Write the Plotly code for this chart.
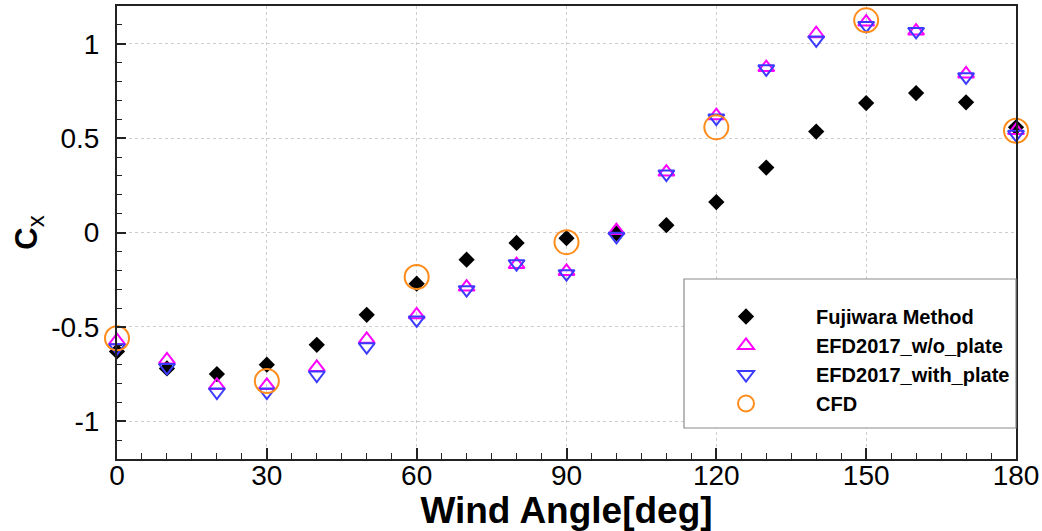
import plotly.graph_objects as go

# ---- data ----
angles = [0, 10, 20, 30, 40, 50, 60, 70, 80, 90, 100, 110, 120, 130, 140, 150, 160, 170, 180]
fujiwara = [-0.63, -0.72, -0.75, -0.70, -0.595, -0.436, -0.271, -0.144, -0.055, -0.03,
            -0.005, 0.039, 0.161, 0.344, 0.535, 0.686, 0.739, 0.69, 0.557]
efd_wo_plate = [-0.573, -0.675, -0.81, -0.81, -0.715, -0.566, -0.436, -0.289, -0.17, -0.206,
                0.01, 0.32, 0.619, 0.874, 1.053, 1.115, 1.067, 0.84, 0.54]
efd_with_plate = [-0.61, -0.715, -0.845, -0.845, -0.755, -0.605, -0.463, -0.303, -0.165, -0.218,
                  -0.02, 0.31, 0.606, 0.867, 1.02, 1.097, 1.065, 0.825, 0.52]
cfd_angles = [0, 30, 60, 90, 120, 150, 180]
cfd = [-0.56, -0.787, -0.236, -0.051, 0.557, 1.124, 0.539]

series_names = ["Fujiwara Method", "EFD2017_w/o_plate", "EFD2017_with_plate", "CFD"]

x_ticks = [0, 30, 60, 90, 120, 150, 180]
x_ticktext = ["0", "30", "60", "90", "120", "150", "180"]
y_ticks = [-1, -0.5, 0, 0.5, 1]
y_ticktext = ["-1", "-0.5", "0", "0.5", "1"]

FONT = "Liberation Sans, Arial, sans-serif"
PAD = "\u00a0" * 9  # gap between legend symbol and label

fig = go.Figure()
fig.add_trace(go.Scatter(
    x=angles, y=fujiwara, mode="markers", name=PAD + series_names[0], cliponaxis=False,
    marker=dict(symbol="diamond", size=12.5, color="black", line=dict(width=0))))
fig.add_trace(go.Scatter(
    x=angles, y=efd_wo_plate, mode="markers", name=PAD + series_names[1], cliponaxis=False,
    marker=dict(symbol="triangle-up-open", size=14, color="#ff00ff", line=dict(width=2, color="#ff00ff"))))
fig.add_trace(go.Scatter(
    x=angles, y=efd_with_plate, mode="markers", name=PAD + series_names[2], cliponaxis=False,
    marker=dict(symbol="triangle-down-open", size=14, color="#3b3bff", line=dict(width=2, color="#3b3bff"))))
fig.add_trace(go.Scatter(
    x=cfd_angles, y=cfd, mode="markers", name=PAD + series_names[3], cliponaxis=False,
    marker=dict(symbol="circle-open", size=24, color="#ff8c1a", line=dict(width=2, color="#ff8c1a"))))

L, R, T, B = 117, 1016, 6, 459
W, H = 1042, 531
pw, ph = R - L, B - T

def px(xp):
    return (xp - L) / pw

def py(yp):
    return (B - yp) / ph

fig.update_layout(
    width=W, height=H,
    margin=dict(l=L, r=W - R, t=T, b=H - B, pad=0),
    paper_bgcolor="white", plot_bgcolor="white",
    showlegend=True,
    legend=dict(
        x=px(726), y=py(297), xanchor="left", yanchor="top",
        bgcolor="rgba(0,0,0,0)", borderwidth=0,
        font=dict(family=FONT, size=20, color="black", weight="bold"),
        itemwidth=30, tracegroupgap=0,
    ),
    shapes=[dict(type="rect", xref="paper", yref="paper",
                 x0=px(684), x1=1.0, y0=py(428), y1=py(279),
                 fillcolor="white", line=dict(color="#8c8c8c", width=1.2), layer="above")],
    xaxis=dict(
        range=[0, 180], tickmode="array", tickvals=x_ticks, ticktext=x_ticktext,
        ticks="inside", ticklen=11, tickwidth=2, tickcolor="#222",
        showline=True, linecolor="#222", linewidth=2, mirror=True,
        showgrid=True, gridcolor="#cdcdcd", griddash="dot", gridwidth=1,
        zeroline=False, automargin=False, ticklabelstandoff=-10,
        tickfont=dict(family=FONT, size=28, color="black"),
        minor=dict(tickmode="linear", tick0=0, dtick=5, ticks="inside", ticklen=6,
                   tickwidth=1, tickcolor="#222", showgrid=False),
        title=dict(text="Wind Angle[deg]", standoff=16,
                   font=dict(family=FONT, size=37, color="black", weight="bold")),
    ),
    yaxis=dict(
        range=[-1.2, 1.2], tickmode="array", tickvals=y_ticks, ticktext=y_ticktext,
        ticks="inside", ticklen=9, tickwidth=2, tickcolor="#222",
        showline=True, linecolor="#222", linewidth=2, mirror=True,
        showgrid=True, gridcolor="#cdcdcd", griddash="dot", gridwidth=1,
        zeroline=False, automargin=False, ticklabelstandoff=10,
        tickfont=dict(family=FONT, size=28, color="black"),
        minor=dict(tickmode="linear", tick0=0, dtick=0.1, ticks="inside", ticklen=5,
                   tickwidth=1, tickcolor="#222", showgrid=False),
        title=dict(text="<b>C</b><sub><span style=\"font-size:24px\">x</span></sub>", standoff=4,
                   font=dict(family=FONT, size=31, color="black")),
    ),
)

fig.write_html(
    "out.html",
    config={"displayModeBar": False},
    post_script="document.body.style.margin='0';document.body.style.padding='0';"
                "document.documentElement.style.overflow='hidden';",
)
